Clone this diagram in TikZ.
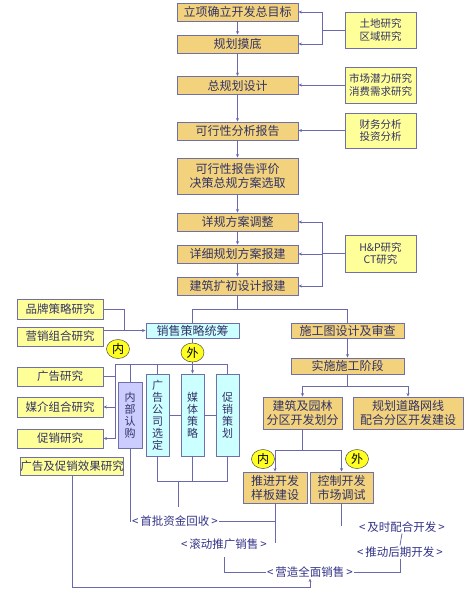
\documentclass[tikz,border=0pt]{standalone}
\usepackage{fontspec}
\newfontfamily\cjk{Noto Sans CJK SC}
\usetikzlibrary{arrows.meta,shapes.geometric}
\definecolor{mainfill}{HTML}{F2D27C}
\definecolor{yfill}{HTML}{FFFF99}
\definecolor{cfill}{HTML}{CCFFFF}
\definecolor{lfill}{HTML}{CCCCFF}
\definecolor{bordc}{HTML}{7070A8}
\definecolor{linec}{HTML}{6A6AAA}
\definecolor{txtc}{HTML}{333366}
\definecolor{lblc}{HTML}{333388}
\definecolor{circf}{HTML}{FFFF22}
\tikzset{
  box/.style={draw=bordc, line width=0.9pt, inner sep=0pt, text=txtc, align=center,
              font=\cjk\fontsize{12}{14}\selectfont},
  mainbox/.style={box, fill=mainfill, minimum width=121pt, minimum height=18pt},
  rbox/.style={box, fill=yfill, minimum width=71pt, font=\cjk\fontsize{10.5}{12.5}\selectfont},
  lbox/.style={box, fill=yfill, minimum width=86pt, font=\cjk\fontsize{11.5}{13}\selectfont},
  cbox/.style={box, fill=cfill},
  vbox/.style={box, fill=cfill, minimum width=23pt, minimum height=82pt, font=\cjk\fontsize{11}{12}\selectfont},
  pbox/.style={box, fill=lfill, minimum width=24pt, minimum height=66pt, font=\cjk\fontsize{11}{12}\selectfont},
  lbl/.style={inner sep=1pt, text=lblc, font=\cjk\fontsize{11.5}{13}\selectfont},
  circ/.style={ellipse, draw=black!70, line width=0.5pt, fill=circf, inner sep=0pt,
               minimum width=23pt, minimum height=19pt, font=\cjk\fontsize{12}{12}\selectfont},
  conn/.style={draw=linec, line width=0.8pt},
  arr/.style={conn, -{Stealth[length=3.5pt,width=3pt]}}
}
\begin{document}
\begin{tikzpicture}[x=1pt,y=-1pt]
\useasboundingbox[fill=white] (0,0) rectangle (474,599);

% main column
\node[mainbox] (b1) at (237.5,12) {立项确立开发总目标};
\node[mainbox] (b2) at (237.5,44) {规划摸底};
\node[mainbox] (b3) at (237.5,85.5) {总规划设计};
\node[mainbox] (b4) at (237.5,131) {可行性分析报告};
\node[mainbox, minimum height=36pt] (b5) at (237.5,176) {可行性报告评价\\决策总规方案选取};
\node[mainbox] (b6) at (237.5,222) {详规方案调整};
\node[mainbox] (b7) at (237.5,254) {详细规划方案报建};
\node[mainbox] (b8) at (237.5,286) {建筑扩初设计报建};

% right research boxes
\node[rbox, minimum height=36pt] (r1) at (380.5,30) {土地研究\\区域研究};
\node[rbox, minimum height=36pt] (r2) at (380.5,85) {市场潜力研究\\消费需求研究};
\node[rbox, minimum height=35pt] (r3) at (380.5,130.5) {财务分析\\投资分析};
\node[rbox, minimum height=37pt] (r4) at (380.5,253.5) {H\&P研究\\CT研究};

% sales strategy and construction
\node[cbox, minimum width=93pt, minimum height=15pt] (s0) at (192.5,330.5) {销售策略统筹};
\node[mainbox, minimum width=113pt, minimum height=15pt] (c1) at (347.5,330.5) {施工图设计及审查};
\node[mainbox, minimum width=113pt, minimum height=16pt] (c2) at (347.5,366) {实施施工阶段};
\node[mainbox, minimum width=79pt, minimum height=32pt] (c3) at (302.5,413) {建筑及园林\\分区开发划分};
\node[mainbox, minimum width=110pt, minimum height=32pt] (c4) at (408,413) {规划道路网线\\配合分区开发建设};
\node[mainbox, minimum width=64pt, minimum height=31pt] (c5) at (275,487.5) {推进开发\\样板建设};
\node[mainbox, minimum width=63pt, minimum height=31pt] (c6) at (341.5,487.5) {控制开发\\市场调试};

% left research boxes
\node[lbox, minimum height=20pt] (l1) at (60,309) {品牌策略研究};
\node[lbox, minimum height=19pt] (l2) at (60,336.5) {营销组合研究};
\node[lbox, minimum height=19pt] (l3) at (60,376.5) {广告研究};
\node[lbox, minimum height=20pt] (l4) at (60,407) {媒介组合研究};
\node[lbox, minimum height=19pt] (l5) at (60,438.5) {促销研究};
\node[lbox, minimum width=102pt, minimum height=18pt] (l6) at (72,466) {广告及促销效果研究};

% vertical boxes
\node[pbox] (v1) at (130,415) {内\\部\\认\\购};
\node[vbox] (v2) at (157.5,415) {广\\告\\公\\司\\选\\定};
\node[vbox] (v3) at (192.5,415) {媒\\体\\策\\略};
\node[vbox] (v4) at (227.5,415) {促\\销\\策\\划};

% bottom labels
\node[lbl, anchor=west] (t1) at (131,521) {<\,首批资金回收\,>};
\node[lbl, anchor=west] (t2) at (180,544) {<\,滚动推广销售\,>};
\node[lbl] (t3) at (310,572) {<\,营造全面销售\,>};
\node[lbl] (t4) at (402,527) {<\,及时配合开发\,>};
\node[lbl] (t5) at (400,552) {<\,推动后期开发\,>};

% junction coordinates
\coordinate (j1) at (322,30);
\coordinate (j4) at (322,253.5);
\coordinate (ja) at (237.5,309);
\coordinate (jl) at (192.5,309);
\coordinate (jr) at (347.5,309);
\coordinate (jb) at (347.5,386);
\coordinate (jc) at (302.5,450);
\coordinate (j5) at (124,330.5);
\coordinate (wl) at (115,364.5);
\coordinate (wr) at (227.5,364.5);
\coordinate (wb) at (115,438.5);
\coordinate (h1) at (157.5,481);
\coordinate (h2) at (227.5,481);
\coordinate (h3) at (178,481);
\coordinate (m4) at (178,507);
\coordinate (m1) at (275,521);
\coordinate (m2) at (275,543);
\coordinate (m3) at (341.5,526);
\coordinate (k1) at (224,557);
\coordinate (q1) at (72,587);

% main column arrows
\draw[arr] (b1) -- (b2);
\draw[arr] (b2) -- (b3);
\draw[arr] (b3) -- (b4);
\draw[arr] (b4) -- (b5);
\draw[arr] (b5) -- (b6);
\draw[arr] (b6) -- (b7);
\draw[arr] (b7) -- (b8);

% research to main
\draw[conn] (r1.west) -- (j1);
\draw[arr] (j1) |- (b1.east);
\draw[arr] (j1) |- (b2.east);
\draw[arr] (r2.west) -- (b3.east |- r2.west);
\draw[arr] (r3.west) -- (b4.east |- r3.west);
\draw[conn] (r4.west) -- (j4);
\draw[arr] (j4) |- (b6.east);
\draw[arr] (j4) |- (b7.east);
\draw[arr] (j4) |- (b8.east);

% split
\draw[conn] (b8.south) -- (ja);
\draw[conn] (jl) -- (jr);
\draw[conn] (jl) -- (s0.north);
\draw[conn] (jr) -- (c1.north);
\draw[arr] (c1) -- (c2);
\draw[conn] (c2.south) -- (jb);
\draw[arr] (jb) -| (c3.north);
\draw[arr] (jb) -| (c4.north);
\draw[conn] (c3.south) -- (jc);
\draw[arr] (jc) -| (c5.north);
\draw[arr] (jc) -| (c6.north);

% left inputs to sales
\draw[conn] (l1.east) -| (j5);
\draw[arr] (l2.east |- s0.west) -- (s0.west);

% sales to sub-strategies
\draw[arr] (s0.south) -- (v3.north);
\draw[conn] (wl) -- (wr);
\draw[conn] (v1.north |- wl) -- (v1.north);
\draw[conn] (v2.north |- wl) -- (v2.north);
\draw[conn] (wr) -- (v4.north);
\draw[conn] (wl) -- (wb);
\draw[conn] (l3.east) -- (wl |- l3.east);
\draw[arr] (wl |- l4.east) -- (l4.east);
\draw[arr] (wb) -- (l5.east);
\draw[conn] (v2.east) -- (v3.west);
\draw[conn] (v3.east) -- (v4.west);

% bottom of sub-strategies
\draw[conn] (v2.south) -- (h1) -- (h2) -- (v4.south);
\draw[conn] (v3.south) -- (v3.south |- h1);
\draw[conn] (h3) -- (m4);

% sales results
\draw[conn] (v1.south) |- (t1.west);
\draw[conn] (t1.east) -- (m1);
\draw[conn] (c5.south) -- (m2);
\draw[conn] (c6.south) -- (m3);
\draw[conn] (k1) |- (t3.west);
\draw[conn] (t3.east) -| (t5.south);
\draw[conn] (t4.south) -- (t5.north);
\draw[arr] (l6.south) -- (q1) -| (t3.south);

% circles
\node[circ] (n1) at (118,349) {内};
\node[circ] (n2) at (192.5,352.5) {外};
\node[circ] (n3) at (263,459) {内};
\node[circ] (n4) at (357,459) {外};
\end{tikzpicture}
\end{document}
